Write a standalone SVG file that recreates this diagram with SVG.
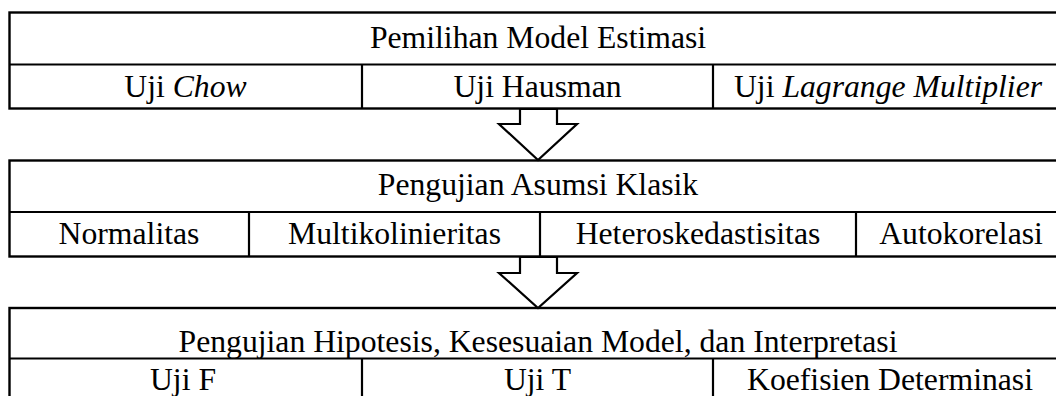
<svg xmlns="http://www.w3.org/2000/svg" width="1056" height="396" viewBox="0 0 1056 396">
<style>
.box{fill:#fff;stroke:#000;stroke-width:2.4}
.ln{stroke:#000;stroke-width:2.2;fill:none}
.t{font-family:"Liberation Serif","Times New Roman",serif;font-size:31.7px;fill:#000;text-anchor:middle}
.arrow{fill:#fff;stroke:#000;stroke-width:2.2;stroke-linejoin:miter}
</style>
<g id="box1">
<rect class="box" x="9.5" y="12.5" width="1056" height="96"/>
<line class="ln" x1="9.5" y1="64.5" x2="1066" y2="64.5"/>
<line class="ln" x1="362" y1="64.5" x2="362" y2="108.5"/>
<line class="ln" x1="713" y1="64.5" x2="713" y2="108.5"/>
<text class="t" x="538" y="48">Pemilihan Model Estimasi</text>
<text class="t" x="185.5" y="96.5">Uji <tspan font-style="italic">Chow</tspan></text>
<text class="t" x="537.5" y="96.5">Uji Hausman</text>
<text class="t" x="888" y="96.5">Uji <tspan font-style="italic">Lagrange Multiplier</tspan></text>
</g>
<g id="box2">
<rect class="box" x="9.5" y="160.5" width="1056" height="96"/>
<line class="ln" x1="9.5" y1="212" x2="1066" y2="212"/>
<line class="ln" x1="249" y1="212" x2="249" y2="256.5"/>
<line class="ln" x1="540" y1="212" x2="540" y2="256.5"/>
<line class="ln" x1="856" y1="212" x2="856" y2="256.5"/>
<text class="t" x="538" y="195">Pengujian Asumsi Klasik</text>
<text class="t" x="129" y="243.5">Normalitas</text>
<text class="t" x="394.5" y="243.5">Multikolinieritas</text>
<text class="t" x="698" y="243.5">Heteroskedastisitas</text>
<text class="t" x="961" y="243.5">Autokorelasi</text>
</g>
<g id="box3">
<rect class="box" x="9.5" y="308" width="1056" height="100"/>
<line class="ln" x1="9.5" y1="358.5" x2="1066" y2="358.5"/>
<line class="ln" x1="362" y1="358.5" x2="362" y2="400"/>
<line class="ln" x1="713" y1="358.5" x2="713" y2="400"/>
<text class="t" x="538" y="351.5">Pengujian Hipotesis, Kesesuaian Model, dan Interpretasi</text>
<text class="t" x="183" y="390">Uji F</text>
<text class="t" x="537.5" y="390">Uji T</text>
<text class="t" x="890" y="390">Koefisien Determinasi</text>
</g>
<g id="connectors">
<polygon class="arrow" points="520,109 520,124 499,124 538,160 577,124 557,124 557,109"/>
<polygon class="arrow" points="520,257 520,273 499,273 538,308 577,273 557,273 557,257"/>
</g>
</svg>
